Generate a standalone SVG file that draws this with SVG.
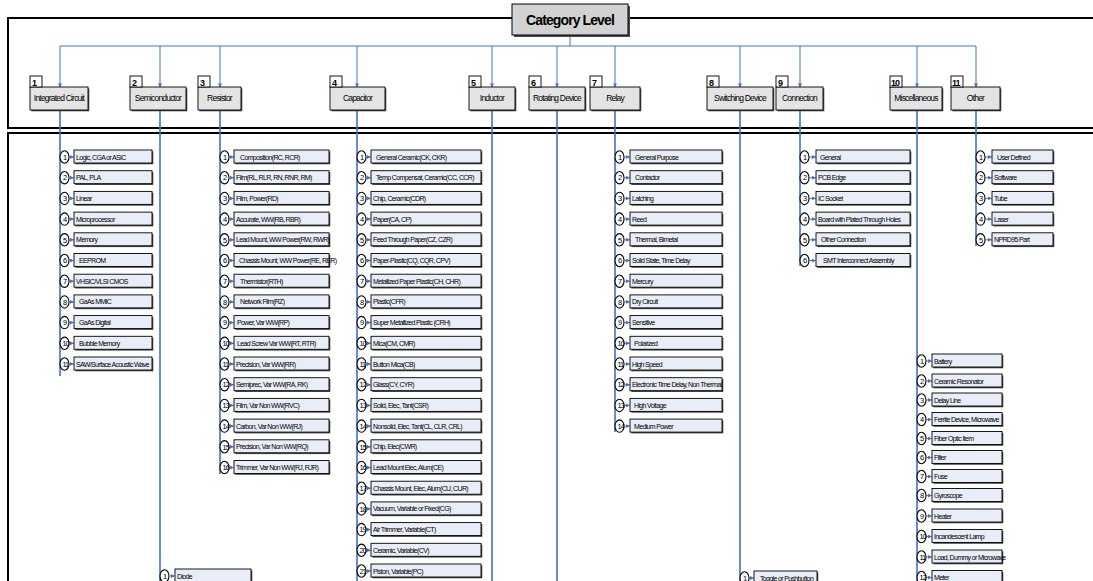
<svg xmlns="http://www.w3.org/2000/svg" xmlns:xlink="http://www.w3.org/1999/xlink" width="1093" height="581" viewBox="0 0 1093 581">
<style>
.fr{fill:none;stroke:#000;stroke-width:2}
.ln{fill:none;stroke:#4472c4;stroke-width:1}
.lt{fill:none;stroke:#4472c4;stroke-width:1.6}
.ar{stroke:#4472c4;stroke-width:1;marker-end:url(#a)}
.sh{fill:#4a4a4a}
.ib{fill:#e8edf7;stroke:#000;stroke-width:0.9}
.cb{fill:#e4e4e4;stroke:#000;stroke-width:0.9}
.nb{fill:#fff;stroke:#000;stroke-width:0.9}
.ci{fill:#fff;stroke:#000;stroke-width:1.1}
text{font-family:"Liberation Sans",Arial,sans-serif;fill:#000}
.it{font-size:7px;letter-spacing:-0.65px}
.nm{font-size:7.5px;letter-spacing:-1px}
.cl{font-size:8.5px;letter-spacing:-0.8px;text-anchor:middle}
.cn{font-size:9px;font-weight:bold}
.tt{font-size:14px;font-weight:bold;letter-spacing:-0.9px;text-anchor:middle}
</style>
<defs>
<marker id="a" markerWidth="4" markerHeight="4" refX="3.6" refY="2" orient="auto" markerUnits="userSpaceOnUse"><path d="M0,0 L4,2 L0,4z" fill="#4472c4"/></marker>
<g id="tIC"><ellipse class="ci" cx="4.5" cy="0" rx="4.5" ry="6.2"/><line class="ar" x1="9" y1="0" x2="13.5" y2="0"/><rect class="sh" x="15.3" y="-5.7" width="78" height="13"/><rect class="ib" x="14" y="-7" width="78" height="13"/></g>
<g id="tSE"><ellipse class="ci" cx="4.5" cy="0" rx="4.5" ry="6.2"/><line class="ar" x1="9" y1="0" x2="14.5" y2="0"/><rect class="sh" x="16.3" y="-5.7" width="76" height="13"/><rect class="ib" x="15" y="-7" width="76" height="13"/></g>
<g id="tRE"><ellipse class="ci" cx="4.5" cy="0" rx="4.5" ry="6.2"/><line class="ar" x1="9" y1="0" x2="13.5" y2="0"/><rect class="sh" x="15.3" y="-5.7" width="95" height="13"/><rect class="ib" x="14" y="-7" width="95" height="13"/></g>
<g id="tCA"><ellipse class="ci" cx="4.5" cy="0" rx="4.5" ry="6.2"/><line class="ar" x1="9" y1="0" x2="13.5" y2="0"/><rect class="sh" x="15.3" y="-5.7" width="110" height="13"/><rect class="ib" x="14" y="-7" width="110" height="13"/></g>
<g id="tRL"><ellipse class="ci" cx="4.5" cy="0" rx="4.5" ry="6.2"/><line class="ar" x1="9" y1="0" x2="14.5" y2="0"/><rect class="sh" x="16.3" y="-5.7" width="92" height="13"/><rect class="ib" x="15" y="-7" width="92" height="13"/></g>
<g id="tCO"><ellipse class="ci" cx="4.5" cy="0" rx="4.5" ry="6.2"/><line class="ar" x1="9" y1="0" x2="15.5" y2="0"/><rect class="sh" x="17.3" y="-5.7" width="94" height="13"/><rect class="ib" x="16" y="-7" width="94" height="13"/></g>
<g id="tMI"><ellipse class="ci" cx="4.5" cy="0" rx="4.5" ry="6.2"/><line class="ar" x1="9" y1="0" x2="14.5" y2="0"/><rect class="sh" x="16.3" y="-5.7" width="70" height="13"/><rect class="ib" x="15" y="-7" width="70" height="13"/></g>
<g id="tOT"><ellipse class="ci" cx="4.5" cy="0" rx="4.5" ry="6.2"/><line class="ar" x1="9" y1="0" x2="15.5" y2="0"/><rect class="sh" x="17.3" y="-5.7" width="61" height="13"/><rect class="ib" x="16" y="-7" width="61" height="13"/></g>
<g id="tSW"><ellipse class="ci" cx="4.5" cy="0" rx="4.5" ry="6.2"/><line class="ar" x1="9" y1="0" x2="13.5" y2="0"/><rect class="sh" x="15.3" y="-5.7" width="63" height="13"/><rect class="ib" x="14" y="-7" width="63" height="13"/></g>
</defs>
<rect width="1093" height="581" fill="#fff"/>
<g id="frames">
<path class="fr" d="M512,18 H8 V128 H1100 M628,18 H1100"/>
<rect class="fr" x="8" y="133" width="1100" height="460"/>
</g>
<g id="connectors">
<path class="ln" d="M570,35 V46 M60,46 H976"/>
<line class="ar" x1="60" y1="46" x2="60" y2="87"/>
<line class="ar" x1="160" y1="46" x2="160" y2="87"/>
<line class="ar" x1="220" y1="46" x2="220" y2="87"/>
<line class="ar" x1="357" y1="46" x2="357" y2="87"/>
<line class="ar" x1="492" y1="46" x2="492" y2="87"/>
<line class="ar" x1="557" y1="46" x2="557" y2="87"/>
<line class="ar" x1="615" y1="46" x2="615" y2="87"/>
<line class="ar" x1="740" y1="46" x2="740" y2="87"/>
<line class="ar" x1="800" y1="46" x2="800" y2="87"/>
<line class="ar" x1="917" y1="46" x2="917" y2="87"/>
<line class="ar" x1="976" y1="46" x2="976" y2="87"/>
<path class="lt" d="M60,110 V376 M160,110 V581 M220,110 V474 M357,110 V581 M492,110 V581 M557,110 V581 M615,110 V432 M740,110 V581 M800,110 V266 M917,110 V581 M976,110 V246"/>
</g>
<g id="category-level"><rect class="sh" x="514" y="6" width="116" height="31"/><rect x="512" y="4" width="116" height="31" fill="#d2d2d2" stroke="#000" stroke-width="1"/><text class="tt" x="570" y="25">Category Level</text></g>
<g id="n1"><rect class="sh" x="31.3" y="88.3" width="58" height="23"/><rect class="cb" x="30" y="87" width="58" height="23"/><rect class="nb" x="30" y="76" width="12" height="11"/><text class="cn" x="32" y="85.5">1</text><text class="cl" x="59" y="101">Integrated Circuit</text></g>
<g id="n2"><rect class="sh" x="131.3" y="88.3" width="56" height="23"/><rect class="cb" x="130" y="87" width="56" height="23"/><rect class="nb" x="130" y="76" width="12" height="11"/><text class="cn" x="132" y="85.5">2</text><text class="cl" x="158" y="101">Semiconductor</text></g>
<g id="n3"><rect class="sh" x="199.3" y="88.3" width="43" height="23"/><rect class="cb" x="198" y="87" width="43" height="23"/><rect class="nb" x="198" y="76" width="12" height="11"/><text class="cn" x="200" y="85.5">3</text><text class="cl" x="219.5" y="101">Resistor</text></g>
<g id="n4"><rect class="sh" x="331.3" y="88.3" width="55" height="23"/><rect class="cb" x="330" y="87" width="55" height="23"/><rect class="nb" x="330" y="76" width="12" height="11"/><text class="cn" x="332" y="85.5">4</text><text class="cl" x="357.5" y="101">Capacitor</text></g>
<g id="n5"><rect class="sh" x="470.3" y="88.3" width="46" height="23"/><rect class="cb" x="469" y="87" width="46" height="23"/><rect class="nb" x="469" y="76" width="12" height="11"/><text class="cn" x="471" y="85.5">5</text><text class="cl" x="492" y="101">Inductor</text></g>
<g id="n6"><rect class="sh" x="530.3" y="88.3" width="56" height="23"/><rect class="cb" x="529" y="87" width="56" height="23"/><rect class="nb" x="529" y="76" width="12" height="11"/><text class="cn" x="531" y="85.5">6</text><text class="cl" x="557" y="101">Rotating Device</text></g>
<g id="n7"><rect class="sh" x="591.3" y="88.3" width="50" height="23"/><rect class="cb" x="590" y="87" width="50" height="23"/><rect class="nb" x="590" y="76" width="12" height="11"/><text class="cn" x="592" y="85.5">7</text><text class="cl" x="615" y="101">Relay</text></g>
<g id="n8"><rect class="sh" x="708.3" y="88.3" width="66" height="23"/><rect class="cb" x="707" y="87" width="66" height="23"/><rect class="nb" x="707" y="76" width="12" height="11"/><text class="cn" x="709" y="85.5">8</text><text class="cl" x="740" y="101">Switching Device</text></g>
<g id="n9"><rect class="sh" x="777.3" y="88.3" width="47" height="23"/><rect class="cb" x="776" y="87" width="47" height="23"/><rect class="nb" x="776" y="76" width="12" height="11"/><text class="cn" x="778" y="85.5">9</text><text class="cl" x="799.5" y="101">Connection</text></g>
<g id="n10"><rect class="sh" x="891.3" y="88.3" width="52" height="23"/><rect class="cb" x="890" y="87" width="52" height="23"/><rect class="nb" x="890" y="76" width="12" height="11"/><text class="cn" x="891" y="85.5" letter-spacing="-1">10</text><text class="cl" x="916" y="101">Miscellaneous</text></g>
<g id="n11"><rect class="sh" x="952.3" y="88.3" width="49" height="23"/><rect class="cb" x="951" y="87" width="49" height="23"/><rect class="nb" x="951" y="76" width="12" height="11"/><text class="cn" x="952" y="85.5" letter-spacing="-1">11</text><text class="cl" x="975.5" y="101">Other</text></g>

<g id="ic-items">
<g id="ic1" transform="translate(60,157)"><use href="#tIC"/><text class="nm" x="3" y="2.7">1</text><text class="it" x="16" y="2.5">Logic, CGA or ASIC</text></g>
<g id="ic2" transform="translate(60,177.7)"><use href="#tIC"/><text class="nm" x="3" y="2.7">2</text><text class="it" x="16" y="2.5">PAL, PLA</text></g>
<g id="ic3" transform="translate(60,198.4)"><use href="#tIC"/><text class="nm" x="3" y="2.7">3</text><text class="it" x="16" y="2.5">Linear</text></g>
<g id="ic4" transform="translate(60,219.1)"><use href="#tIC"/><text class="nm" x="3" y="2.7">4</text><text class="it" x="16" y="2.5">Microprocessor</text></g>
<g id="ic5" transform="translate(60,239.8)"><use href="#tIC"/><text class="nm" x="3" y="2.7">5</text><text class="it" x="16" y="2.5">Memory</text></g>
<g id="ic6" transform="translate(60,260.5)"><use href="#tIC"/><text class="nm" x="3" y="2.7">6</text><text class="it" x="19" y="2.5">EEPROM</text></g>
<g id="ic7" transform="translate(60,281.2)"><use href="#tIC"/><text class="nm" x="3" y="2.7">7</text><text class="it" x="16" y="2.5">VHSIC/VLSI CMOS</text></g>
<g id="ic8" transform="translate(60,301.9)"><use href="#tIC"/><text class="nm" x="3" y="2.7">8</text><text class="it" x="19" y="2.5">GaAs MMIC</text></g>
<g id="ic9" transform="translate(60,322.6)"><use href="#tIC"/><text class="nm" x="3" y="2.7">9</text><text class="it" x="19" y="2.5">GaAs Digital</text></g>
<g id="ic10" transform="translate(60,343.3)"><use href="#tIC"/><text class="nm" x="2.5" y="2.7">10</text><text class="it" x="19" y="2.5">Bubble Memory</text></g>
<g id="ic11" transform="translate(60,364)"><use href="#tIC"/><text class="nm" x="2.5" y="2.7">11</text><text class="it" x="16" y="2.5">SAW/Surface Acoustic Wave</text></g>
</g>

<g id="semi-items">
<g id="se1" transform="translate(160,576)"><use href="#tSE"/><text class="nm" x="3" y="2.7">1</text><text class="it" x="17" y="2.5">Diode</text></g>
</g>

<g id="res-items">
<g id="re1" transform="translate(220,157)"><use href="#tRE"/><text class="nm" x="3" y="2.7">1</text><text class="it" x="20" y="2.5">Composition(RC, RCR)</text></g>
<g id="re2" transform="translate(220,177.7)"><use href="#tRE"/><text class="nm" x="3" y="2.7">2</text><text class="it" x="16" y="2.5">Film(RL, RLR, RN, RNR, RM)</text></g>
<g id="re3" transform="translate(220,198.4)"><use href="#tRE"/><text class="nm" x="3" y="2.7">3</text><text class="it" x="16" y="2.5">Film, Power(RD)</text></g>
<g id="re4" transform="translate(220,219.1)"><use href="#tRE"/><text class="nm" x="3" y="2.7">4</text><text class="it" x="16" y="2.5">Accurate, WW(RB, RBR)</text></g>
<g id="re5" transform="translate(220,239.8)"><use href="#tRE"/><text class="nm" x="3" y="2.7">5</text><text class="it" x="16" y="2.5">Lead Mount, WW Power(RW, RWR)</text></g>
<g id="re6" transform="translate(220,260.5)"><use href="#tRE"/><text class="nm" x="3" y="2.7">6</text><text class="it" x="19" y="2.5">Chassis Mount, WW Power(RE, RER)</text></g>
<g id="re7" transform="translate(220,281.2)"><use href="#tRE"/><text class="nm" x="3" y="2.7">7</text><text class="it" x="20" y="2.5">Thermistor(RTH)</text></g>
<g id="re8" transform="translate(220,301.9)"><use href="#tRE"/><text class="nm" x="3" y="2.7">8</text><text class="it" x="20" y="2.5">Network Film(RZ)</text></g>
<g id="re9" transform="translate(220,322.6)"><use href="#tRE"/><text class="nm" x="3" y="2.7">9</text><text class="it" x="17" y="2.5">Power, Var WW(RP)</text></g>
<g id="re10" transform="translate(220,343.3)"><use href="#tRE"/><text class="nm" x="2.5" y="2.7">10</text><text class="it" x="17" y="2.5">Lead Screw Var WW(RT, RTR)</text></g>
<g id="re11" transform="translate(220,364)"><use href="#tRE"/><text class="nm" x="2.5" y="2.7">11</text><text class="it" x="16" y="2.5">Precision, Var WW(RR)</text></g>
<g id="re12" transform="translate(220,384.7)"><use href="#tRE"/><text class="nm" x="2.5" y="2.7">12</text><text class="it" x="16" y="2.5">Semiprec, Var WW(RA, RK)</text></g>
<g id="re13" transform="translate(220,405.4)"><use href="#tRE"/><text class="nm" x="2.5" y="2.7">13</text><text class="it" x="16" y="2.5">Film, Var Non WW(RVC)</text></g>
<g id="re14" transform="translate(220,426.1)"><use href="#tRE"/><text class="nm" x="2.5" y="2.7">14</text><text class="it" x="16" y="2.5">Carbon, Var Non WW(RJ)</text></g>
<g id="re15" transform="translate(220,446.8)"><use href="#tRE"/><text class="nm" x="2.5" y="2.7">15</text><text class="it" x="16" y="2.5">Precision, Var Non WW(RQ)</text></g>
<g id="re16" transform="translate(220,467.5)"><use href="#tRE"/><text class="nm" x="2.5" y="2.7">16</text><text class="it" x="16" y="2.5">Trimmer, Var Non WW(RJ, RJR)</text></g>
</g>

<g id="cap-items">
<g id="ca1" transform="translate(357,157)"><use href="#tCA"/><text class="nm" x="3" y="2.7">1</text><text class="it" x="19" y="2.5">General Ceramic(CK, CKR)</text></g>
<g id="ca2" transform="translate(357,177.7)"><use href="#tCA"/><text class="nm" x="3" y="2.7">2</text><text class="it" x="19" y="2.5">Temp Compensat, Ceramic(CC, CCR)</text></g>
<g id="ca3" transform="translate(357,198.4)"><use href="#tCA"/><text class="nm" x="3" y="2.7">3</text><text class="it" x="16" y="2.5">Chip, Ceramic(CDR)</text></g>
<g id="ca4" transform="translate(357,219.1)"><use href="#tCA"/><text class="nm" x="3" y="2.7">4</text><text class="it" x="16" y="2.5">Paper(CA, CP)</text></g>
<g id="ca5" transform="translate(357,239.8)"><use href="#tCA"/><text class="nm" x="3" y="2.7">5</text><text class="it" x="16" y="2.5">Feed Through Paper(CZ, CZR)</text></g>
<g id="ca6" transform="translate(357,260.5)"><use href="#tCA"/><text class="nm" x="3" y="2.7">6</text><text class="it" x="16" y="2.5">Paper-Plastic(CQ, CQR, CPV)</text></g>
<g id="ca7" transform="translate(357,281.2)"><use href="#tCA"/><text class="nm" x="3" y="2.7">7</text><text class="it" x="16" y="2.5">Metallized Paper Plastic(CH, CHR)</text></g>
<g id="ca8" transform="translate(357,301.9)"><use href="#tCA"/><text class="nm" x="3" y="2.7">8</text><text class="it" x="16" y="2.5">Plastic(CFR)</text></g>
<g id="ca9" transform="translate(357,322.6)"><use href="#tCA"/><text class="nm" x="3" y="2.7">9</text><text class="it" x="16" y="2.5">Super Metallized Plastic (CRH)</text></g>
<g id="ca10" transform="translate(357,343.3)"><use href="#tCA"/><text class="nm" x="2.5" y="2.7">10</text><text class="it" x="16" y="2.5">Mica(CM, CMR)</text></g>
<g id="ca11" transform="translate(357,364)"><use href="#tCA"/><text class="nm" x="2.5" y="2.7">11</text><text class="it" x="16" y="2.5">Button Mica(CB)</text></g>
<g id="ca12" transform="translate(357,384.7)"><use href="#tCA"/><text class="nm" x="2.5" y="2.7">12</text><text class="it" x="16" y="2.5">Glass(CY, CYR)</text></g>
<g id="ca13" transform="translate(357,405.4)"><use href="#tCA"/><text class="nm" x="2.5" y="2.7">13</text><text class="it" x="16" y="2.5">Solid, Elec, Tant(CSR)</text></g>
<g id="ca14" transform="translate(357,426.1)"><use href="#tCA"/><text class="nm" x="2.5" y="2.7">14</text><text class="it" x="16" y="2.5">Nonsolid, Elec, Tant(CL, CLR, CRL)</text></g>
<g id="ca15" transform="translate(357,446.8)"><use href="#tCA"/><text class="nm" x="2.5" y="2.7">15</text><text class="it" x="16" y="2.5">Chip, Elec(CWR)</text></g>
<g id="ca16" transform="translate(357,467.5)"><use href="#tCA"/><text class="nm" x="2.5" y="2.7">16</text><text class="it" x="16" y="2.5">Lead Mount Elec, Alum(CE)</text></g>
<g id="ca17" transform="translate(357,488.2)"><use href="#tCA"/><text class="nm" x="2.5" y="2.7">17</text><text class="it" x="16" y="2.5">Chassis Mount, Elec, Alum(CU, CUR)</text></g>
<g id="ca18" transform="translate(357,508.9)"><use href="#tCA"/><text class="nm" x="2.5" y="2.7">18</text><text class="it" x="16" y="2.5">Vacuum, Variable or Fixed(CG)</text></g>
<g id="ca19" transform="translate(357,529.6)"><use href="#tCA"/><text class="nm" x="2.5" y="2.7">19</text><text class="it" x="16" y="2.5">Air Trimmer, Variable(CT)</text></g>
<g id="ca20" transform="translate(357,550.3)"><use href="#tCA"/><text class="nm" x="2.5" y="2.7">20</text><text class="it" x="16" y="2.5">Ceramic, Variable(CV)</text></g>
<g id="ca21" transform="translate(357,571)"><use href="#tCA"/><text class="nm" x="2.5" y="2.7">21</text><text class="it" x="16" y="2.5">Piston, Variable(PC)</text></g>
</g>

<g id="relay-items">
<g id="rl1" transform="translate(615,157)"><use href="#tRL"/><text class="nm" x="3" y="2.7">1</text><text class="it" x="20" y="2.5">General Purpose</text></g>
<g id="rl2" transform="translate(615,177.7)"><use href="#tRL"/><text class="nm" x="3" y="2.7">2</text><text class="it" x="20" y="2.5">Contactor</text></g>
<g id="rl3" transform="translate(615,198.4)"><use href="#tRL"/><text class="nm" x="3" y="2.7">3</text><text class="it" x="17" y="2.5">Latching</text></g>
<g id="rl4" transform="translate(615,219.1)"><use href="#tRL"/><text class="nm" x="3" y="2.7">4</text><text class="it" x="17" y="2.5">Reed</text></g>
<g id="rl5" transform="translate(615,239.8)"><use href="#tRL"/><text class="nm" x="3" y="2.7">5</text><text class="it" x="20" y="2.5">Thermal, Bimetal</text></g>
<g id="rl6" transform="translate(615,260.5)"><use href="#tRL"/><text class="nm" x="3" y="2.7">6</text><text class="it" x="17" y="2.5">Solid State,  Time Delay</text></g>
<g id="rl7" transform="translate(615,281.2)"><use href="#tRL"/><text class="nm" x="3" y="2.7">7</text><text class="it" x="17" y="2.5">Mercury</text></g>
<g id="rl8" transform="translate(615,301.9)"><use href="#tRL"/><text class="nm" x="3" y="2.7">8</text><text class="it" x="17" y="2.5">Dry Circuit</text></g>
<g id="rl9" transform="translate(615,322.6)"><use href="#tRL"/><text class="nm" x="3" y="2.7">9</text><text class="it" x="17" y="2.5">Sensitive</text></g>
<g id="rl10" transform="translate(615,343.3)"><use href="#tRL"/><text class="nm" x="2.5" y="2.7">10</text><text class="it" x="19" y="2.5">Polarized</text></g>
<g id="rl11" transform="translate(615,364)"><use href="#tRL"/><text class="nm" x="2.5" y="2.7">11</text><text class="it" x="17" y="2.5">High Speed</text></g>
<g id="rl12" transform="translate(615,384.7)"><use href="#tRL"/><text class="nm" x="2.5" y="2.7">12</text><text class="it" x="17" y="2.5">Electronic Time Delay, Non Thermal</text></g>
<g id="rl13" transform="translate(615,405.4)"><use href="#tRL"/><text class="nm" x="2.5" y="2.7">13</text><text class="it" x="19" y="2.5">High Voltage</text></g>
<g id="rl14" transform="translate(615,426.1)"><use href="#tRL"/><text class="nm" x="2.5" y="2.7">14</text><text class="it" x="19" y="2.5">Medium Power</text></g>
</g>

<g id="switch-items">
<g id="sw1" transform="translate(740,578)"><use href="#tSW"/><text class="nm" x="3" y="2.7">1</text><text class="it" x="20" y="2.5">Toggle or Pushbutton</text></g>
</g>

<g id="conn-items">
<g id="co1" transform="translate(800,157)"><use href="#tCO"/><text class="nm" x="3" y="2.7">1</text><text class="it" x="20" y="2.5">General</text></g>
<g id="co2" transform="translate(800,177.7)"><use href="#tCO"/><text class="nm" x="3" y="2.7">2</text><text class="it" x="18" y="2.5">PCB Edge</text></g>
<g id="co3" transform="translate(800,198.4)"><use href="#tCO"/><text class="nm" x="3" y="2.7">3</text><text class="it" x="18" y="2.5">IC Socket</text></g>
<g id="co4" transform="translate(800,219.1)"><use href="#tCO"/><text class="nm" x="3" y="2.7">4</text><text class="it" x="18" y="2.5">Board with Plated Through Holes</text></g>
<g id="co5" transform="translate(800,239.8)"><use href="#tCO"/><text class="nm" x="3" y="2.7">5</text><text class="it" x="21" y="2.5">Other Connection</text></g>
<g id="co6" transform="translate(800,260.5)"><use href="#tCO"/><text class="nm" x="3" y="2.7">6</text><text class="it" x="23" y="2.5">SMT Interconnect Assembly</text></g>
</g>

<g id="misc-items">
<g id="mi1" transform="translate(917,361)"><use href="#tMI"/><text class="nm" x="3" y="2.7">1</text><text class="it" x="17" y="2.5">Battery</text></g>
<g id="mi2" transform="translate(917,381)"><use href="#tMI"/><text class="nm" x="3" y="2.7">2</text><text class="it" x="17" y="2.5">Ceramic Resonator</text></g>
<g id="mi3" transform="translate(917,400)"><use href="#tMI"/><text class="nm" x="3" y="2.7">3</text><text class="it" x="17" y="2.5">Delay Line</text></g>
<g id="mi4" transform="translate(917,419.5)"><use href="#tMI"/><text class="nm" x="3" y="2.7">4</text><text class="it" x="17" y="2.5">Ferrite Device, Microwave</text></g>
<g id="mi5" transform="translate(917,438.5)"><use href="#tMI"/><text class="nm" x="3" y="2.7">5</text><text class="it" x="17" y="2.5">Fiber Optic Item</text></g>
<g id="mi6" transform="translate(917,457.5)"><use href="#tMI"/><text class="nm" x="3" y="2.7">6</text><text class="it" x="17" y="2.5">Filter</text></g>
<g id="mi7" transform="translate(917,476.5)"><use href="#tMI"/><text class="nm" x="3" y="2.7">7</text><text class="it" x="17" y="2.5">Fuse</text></g>
<g id="mi8" transform="translate(917,495.5)"><use href="#tMI"/><text class="nm" x="3" y="2.7">8</text><text class="it" x="17" y="2.5">Gyroscope</text></g>
<g id="mi9" transform="translate(917,516)"><use href="#tMI"/><text class="nm" x="3" y="2.7">9</text><text class="it" x="17" y="2.5">Heater</text></g>
<g id="mi10" transform="translate(917,536.5)"><use href="#tMI"/><text class="nm" x="2.5" y="2.7">10</text><text class="it" x="17" y="2.5">Incandescent Lamp</text></g>
<g id="mi11" transform="translate(917,557)"><use href="#tMI"/><text class="nm" x="2.5" y="2.7">11</text><text class="it" x="17" y="2.5">Load, Dummy or Microwave</text></g>
<g id="mi12" transform="translate(917,577.5)"><use href="#tMI"/><text class="nm" x="2.5" y="2.7">12</text><text class="it" x="17" y="2.5">Meter</text></g>
</g>

<g id="other-items">
<g id="ot1" transform="translate(976,157)"><use href="#tOT"/><text class="nm" x="3" y="2.7">1</text><text class="it" x="21" y="2.5">User Defined</text></g>
<g id="ot2" transform="translate(976,177.7)"><use href="#tOT"/><text class="nm" x="3" y="2.7">2</text><text class="it" x="18" y="2.5">Software</text></g>
<g id="ot3" transform="translate(976,198.4)"><use href="#tOT"/><text class="nm" x="3" y="2.7">3</text><text class="it" x="18" y="2.5">Tube</text></g>
<g id="ot4" transform="translate(976,219.1)"><use href="#tOT"/><text class="nm" x="3" y="2.7">4</text><text class="it" x="18" y="2.5">Laser</text></g>
<g id="ot5" transform="translate(976,239.8)"><use href="#tOT"/><text class="nm" x="3" y="2.7">5</text><text class="it" x="18" y="2.5">NPRD95 Part</text></g>
</g>
</svg>
